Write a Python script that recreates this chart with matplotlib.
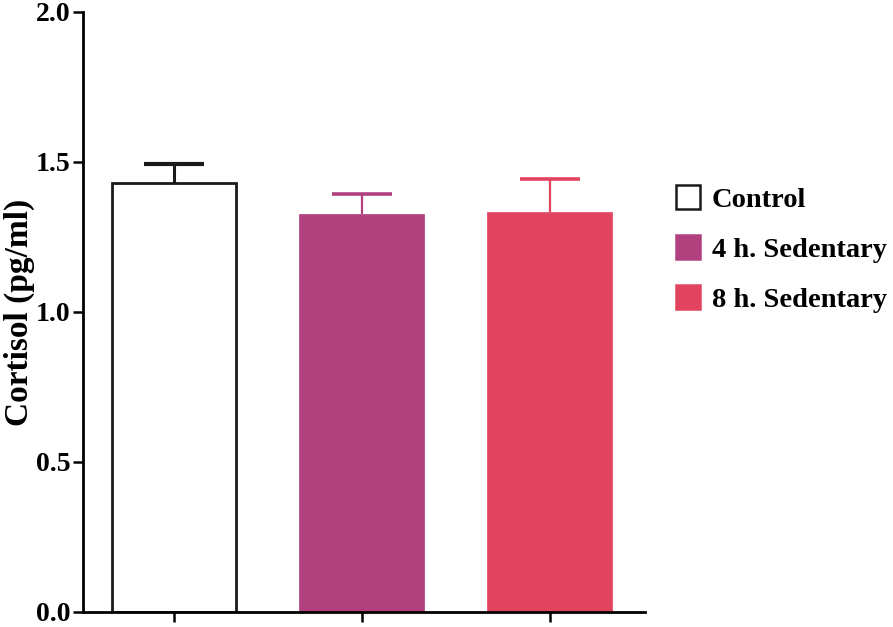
import matplotlib
matplotlib.use("Agg")
import matplotlib.pyplot as plt
from matplotlib.patches import Patch

groups = ["Control", "4 h. Sedentary", "8 h. Sedentary"]
means = [1.43, 1.325, 1.333]
errors = [0.063, 0.067, 0.11]
colors = ["white", "#B0417E", "#E2445F"]
edges = ["#1a1a1a", "#B0417E", "#E2445F"]
yticks = [0.0, 0.5, 1.0, 1.5, 2.0]

plt.rcParams["font.family"] = ["Liberation Serif", "DejaVu Serif"]
plt.rcParams["font.weight"] = "bold"

fig = plt.figure(figsize=(8.93, 6.27), dpi=100)
ax = fig.add_axes([0.093, 0.024, 0.629, 0.957])

x = list(range(len(groups)))
cap = 0.16
for i in x:
    ax.bar(i, means[i], width=0.665, color=colors[i], edgecolor=edges[i],
           linewidth=2 if i == 0 else 0.5, zorder=2)
    top = means[i] + errors[i]
    lw = 2.2 if i == 0 else 1.6
    ax.vlines(i, means[i], top, color=edges[i], linewidth=lw, zorder=1)
    ax.hlines(top, i - cap, i + cap, color=edges[i],
              linewidth=3 if i == 0 else 2.6, zorder=1)

ax.set_xlim(-0.484, 2.505)
ax.set_ylim(0, 2.0)
ax.set_yticks(yticks)
ax.set_yticklabels([f"{v:.1f}" for v in yticks], fontsize=20, fontweight="bold")
ax.set_xticks(x)
ax.set_xticklabels([])
ax.tick_params(axis="both", direction="out", length=7, width=1.8, pad=2)
ax.set_ylabel("Cortisol (pg/ml)", fontsize=24, fontweight="bold")
ax.yaxis.set_label_coords(-0.086, 0.5)

for s in ["top", "right"]:
    ax.spines[s].set_visible(False)
for s in ["left", "bottom"]:
    ax.spines[s].set_linewidth(2)

handles = [Patch(facecolor=colors[i], edgecolor=edges[i], linewidth=1.8)
           for i in x]
fig.legend(handles, groups, loc="center left", bbox_to_anchor=(0.728, 0.603),
           frameon=False, handlelength=0.85, handleheight=0.95,
           handletextpad=0.41, labelspacing=0.77,
           prop={"weight": "bold", "size": 20.5})

fig.savefig("out.png", dpi=100)
